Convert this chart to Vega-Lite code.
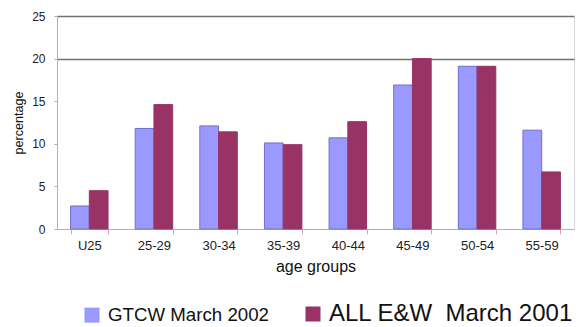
{
  "$schema": "https://vega.github.io/schema/vega-lite/v6.json",
  "width": 517,
  "height": 213,
  "autosize": {"type": "none"},
  "padding": {"left": 57, "top": 16, "right": 5, "bottom": 98},
  "background": "#ffffff",
  "config": {
    "font": "Liberation Sans",
    "view": {"stroke": "#d8d8d8", "strokeWidth": 1}
  },
  "data": {
    "values": [
      {"age": "U25", "series": "GTCW March 2002", "pct": 2.7},
      {"age": "U25", "series": "ALL E&W\u00a0 March 2001", "pct": 4.5},
      {"age": "25-29", "series": "GTCW March 2002", "pct": 11.8},
      {"age": "25-29", "series": "ALL E&W\u00a0 March 2001", "pct": 14.6},
      {"age": "30-34", "series": "GTCW March 2002", "pct": 12.1},
      {"age": "30-34", "series": "ALL E&W\u00a0 March 2001", "pct": 11.4},
      {"age": "35-39", "series": "GTCW March 2002", "pct": 10.1},
      {"age": "35-39", "series": "ALL E&W\u00a0 March 2001", "pct": 9.9},
      {"age": "40-44", "series": "GTCW March 2002", "pct": 10.7},
      {"age": "40-44", "series": "ALL E&W\u00a0 March 2001", "pct": 12.6},
      {"age": "45-49", "series": "GTCW March 2002", "pct": 16.9},
      {"age": "45-49", "series": "ALL E&W\u00a0 March 2001", "pct": 20.0},
      {"age": "50-54", "series": "GTCW March 2002", "pct": 19.1},
      {"age": "50-54", "series": "ALL E&W\u00a0 March 2001", "pct": 19.1},
      {"age": "55-59", "series": "GTCW March 2002", "pct": 11.6},
      {"age": "55-59", "series": "ALL E&W\u00a0 March 2001", "pct": 6.7}
    ]
  },
  "mark": {"type": "bar", "strokeWidth": 1},
  "encoding": {
    "x": {
      "field": "age",
      "type": "nominal",
      "sort": null,
      "scale": {"paddingInner": 0.42, "paddingOuter": 0.21},
      "axis": {
        "title": "age groups",
        "titleFontSize": 16,
        "titleFontWeight": "normal",
        "titleColor": "#111111",
        "titlePadding": 6,
        "labelAngle": 0,
        "labelFontSize": 13,
        "labelColor": "#222222",
        "labelPadding": 5,
        "domainColor": "#c8a4b4",
        "tickColor": "#c8a4b4",
        "tickSize": 5,
        "tickBand": "extent"
      }
    },
    "xOffset": {"field": "series", "type": "nominal", "sort": ["GTCW March 2002", "ALL E&W\u00a0 March 2001"], "scale": {"paddingInner": 0}},
    "y": {
      "field": "pct",
      "type": "quantitative",
      "scale": {"domain": [0, 25]},
      "axis": {
        "title": "percentage",
        "titleFontSize": 12.6,
        "titleFontWeight": "normal",
        "titleColor": "#111111",
        "titlePadding": 6,
        "values": [0, 5, 10, 15, 20, 25],
        "labelFontSize": 12,
        "labelColor": "#222222",
        "labelPadding": 9,
        "domainColor": "#c8a4b4",
        "tickColor": "#c8a4b4",
        "tickSize": 3,
        "gridColor": {"condition": {"test": "datum.value >= 20", "value": "#707070"}, "value": {"condition": {"test": "datum.value == 5", "value": "#bbbbbb"}, "value": "#f2f2f2"}},
        "gridWidth": {"condition": {"test": "datum.value >= 20", "value": 1.5}, "value": 1}
      }
    },
    "color": {
      "field": "series",
      "type": "nominal",
      "sort": ["GTCW March 2002", "ALL E&W\u00a0 March 2001"],
      "scale": {"domain": ["GTCW March 2002", "ALL E&W\u00a0 March 2001"], "range": ["#9999ff", "#993366"]},
      "legend": {
        "title": null,
        "orient": "none",
        "legendX": 23,
        "legendY": 286,
        "direction": "horizontal",
        "symbolType": "square",
        "symbolSize": 225,
        "symbolStrokeWidth": 0,
        "labelOffset": 4,
        "labelLimit": 400,
        "labelFontSize": 18.7,
        "labelColor": "#111111",
        "columnPadding": 32,
        "padding": 0,
        "encode": {
          "labels": {"update": {"fontSize": {"signal": "datum.label == 'GTCW March 2002' ? 18.7 : 24"}}}
        }
      }
    },
    "stroke": {
      "field": "series",
      "type": "nominal",
      "scale": {"domain": ["GTCW March 2002", "ALL E&W\u00a0 March 2001"], "range": ["#7070cc", "#993366"]},
      "legend": null
    }
  }
}
